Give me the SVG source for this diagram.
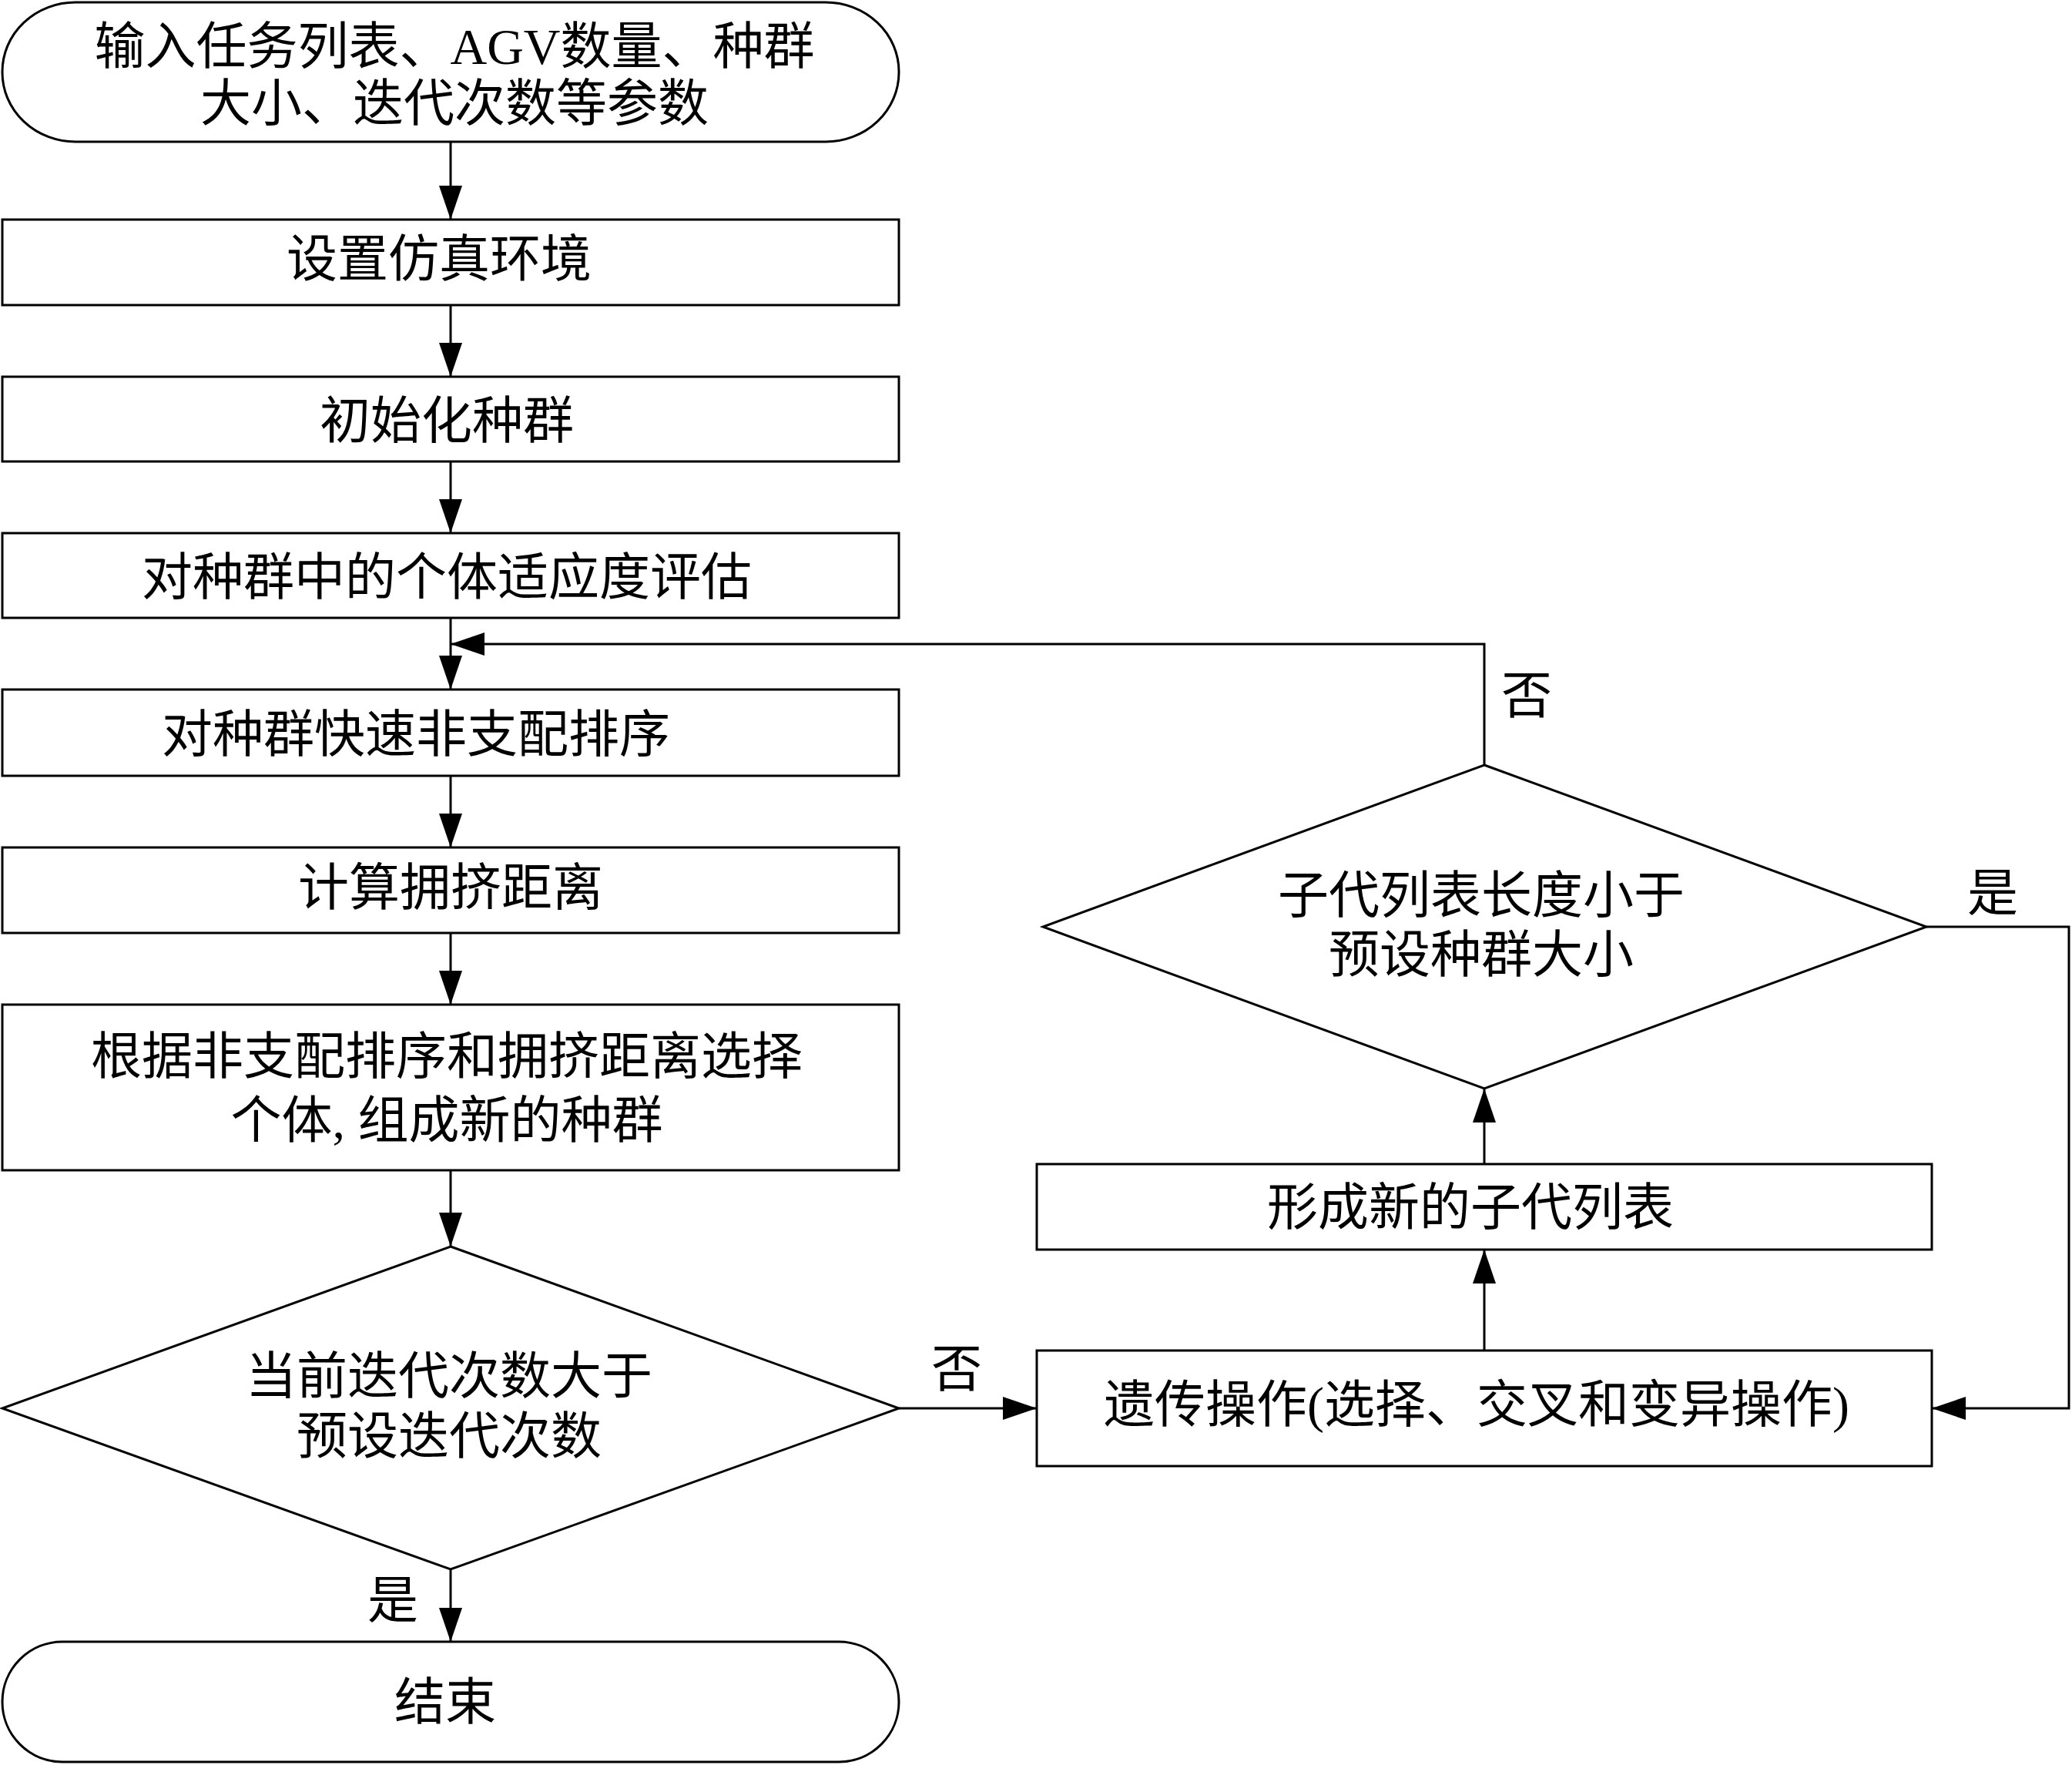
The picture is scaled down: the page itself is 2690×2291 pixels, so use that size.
<svg xmlns="http://www.w3.org/2000/svg" width="2690" height="2291" viewBox="0 0 2690 2291">
<style>
.n{fill:#fff;stroke:#000;stroke-width:3}
.t{font-family:"Liberation Serif","Noto Sans CJK SC",serif;font-size:66px;fill:#000;text-anchor:middle}
.c{fill:none;stroke:#000;stroke-width:3}
</style>
<defs>
<marker id="ah" markerUnits="userSpaceOnUse" markerWidth="46" markerHeight="30" refX="44" refY="15" orient="auto">
<path d="M0,0 L44,15 L0,30 z" fill="#000"/>
</marker>
</defs>
<rect width="2690" height="2291" fill="#fff"/>
<g id="start">
<rect class="n" x="3" y="3" width="1164" height="181" rx="95" ry="90"/>
<text class="t" x="590" y="83">输入任务列表、AGV数量、种群</text>
<text class="t" x="590" y="157">大小、迭代次数等参数</text>
</g>
<g id="setenv">
<rect class="n" x="3" y="285" width="1164" height="111"/>
<text class="t" x="570" y="359">设置仿真环境</text>
</g>
<g id="init">
<rect class="n" x="3" y="489" width="1164" height="110"/>
<text class="t" x="580" y="569">初始化种群</text>
</g>
<g id="eval">
<rect class="n" x="3" y="692" width="1164" height="110"/>
<text class="t" x="580" y="772">对种群中的个体适应度评估</text>
</g>
<g id="sort">
<rect class="n" x="3" y="895" width="1164" height="112"/>
<text class="t" x="540" y="976">对种群快速非支配排序</text>
</g>
<g id="crowd">
<rect class="n" x="3" y="1100" width="1164" height="111"/>
<text class="t" x="585" y="1175">计算拥挤距离</text>
</g>
<g id="select">
<rect class="n" x="3" y="1304" width="1164" height="215"/>
<text class="t" x="580" y="1394">根据非支配排序和拥挤距离选择</text>
<text class="t" x="580" y="1477">个体, 组成新的种群</text>
</g>
<g id="decision1">
<polygon class="n" points="585,1618 1167,1828 585,2037 3,1828"/>
<text class="t" x="583" y="1809">当前迭代次数大于</text>
<text class="t" x="583" y="1887">预设迭代次数</text>
</g>
<g id="end">
<rect class="n" x="3" y="2131" width="1164" height="156" rx="78" ry="78"/>
<text class="t" x="578" y="2232">结束</text>
</g>
<g id="genetic">
<rect class="n" x="1346" y="1753" width="1162" height="150"/>
<text class="t" x="1917" y="1846">遗传操作(选择、交叉和变异操作)</text>
</g>
<g id="offspring">
<rect class="n" x="1346" y="1511" width="1162" height="111"/>
<text class="t" x="1909" y="1590">形成新的子代列表</text>
</g>
<g id="decision2">
<polygon class="n" points="1927,993 2501,1203 1927,1413 1354,1203"/>
<text class="t" x="1923" y="1185">子代列表长度小于</text>
<text class="t" x="1923" y="1262">预设种群大小</text>
</g>
<g id="connectors">
<line class="c" x1="585" y1="184" x2="585" y2="285" marker-end="url(#ah)"/>
<line class="c" x1="585" y1="396" x2="585" y2="489" marker-end="url(#ah)"/>
<line class="c" x1="585" y1="599" x2="585" y2="692" marker-end="url(#ah)"/>
<line class="c" x1="585" y1="802" x2="585" y2="895" marker-end="url(#ah)"/>
<line class="c" x1="585" y1="1007" x2="585" y2="1100" marker-end="url(#ah)"/>
<line class="c" x1="585" y1="1211" x2="585" y2="1304" marker-end="url(#ah)"/>
<line class="c" x1="585" y1="1519" x2="585" y2="1618" marker-end="url(#ah)"/>
<line class="c" x1="585" y1="2037" x2="585" y2="2131" marker-end="url(#ah)"/>
<line class="c" x1="1167" y1="1828" x2="1346" y2="1828" marker-end="url(#ah)"/>
<line class="c" x1="1927" y1="1753" x2="1927" y2="1622" marker-end="url(#ah)"/>
<line class="c" x1="1927" y1="1511" x2="1927" y2="1413" marker-end="url(#ah)"/>
<polyline class="c" points="1927,993 1927,836 585,836" marker-end="url(#ah)"/>
<polyline class="c" points="2501,1203 2686,1203 2686,1828 2508,1828" marker-end="url(#ah)"/>
<text class="t" x="510" y="2100">是</text>
<text class="t" x="1242" y="1800">否</text>
<text class="t" x="1982" y="926">否</text>
<text class="t" x="2587" y="1182">是</text>
</g>
</svg>
